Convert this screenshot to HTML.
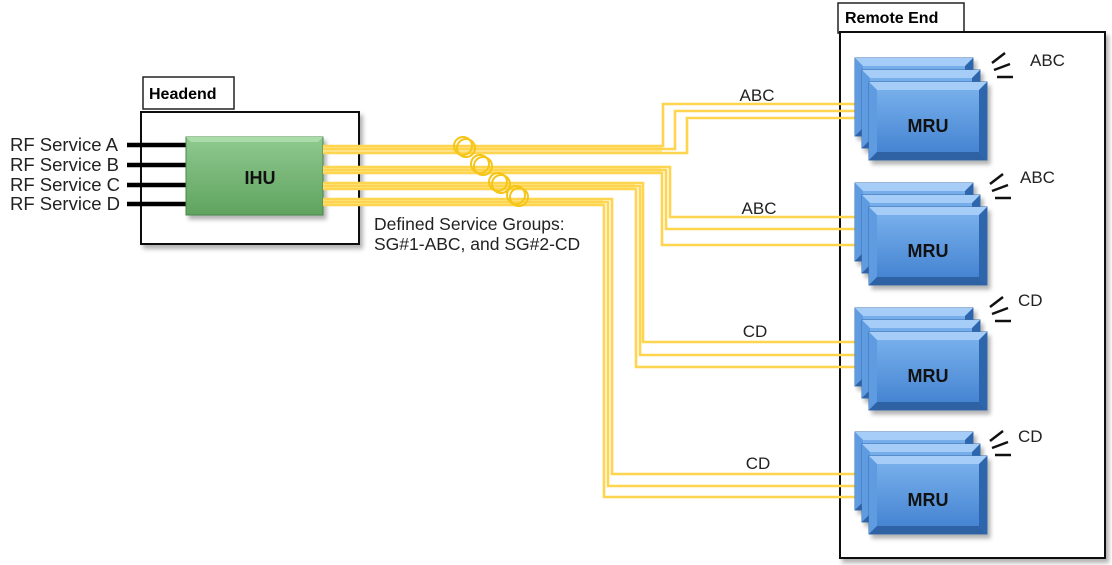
<!DOCTYPE html>
<html><head><meta charset="utf-8"><style>
html,body{margin:0;padding:0;background:#fff;}
svg{display:block;font-family:"Liberation Sans",Arial,sans-serif;}
</style></head><body>
<svg width="1112" height="565" viewBox="0 0 1112 565" xmlns="http://www.w3.org/2000/svg">
<defs>
<linearGradient id="g" x1="0" y1="0" x2="0" y2="1"><stop offset="0" stop-color="#8fc98f"/><stop offset="1" stop-color="#5fa35f"/></linearGradient>
<linearGradient id="b" x1="0" y1="0" x2="0" y2="1"><stop offset="0" stop-color="#7db4ee"/><stop offset="1" stop-color="#3f7fcf"/></linearGradient>
<filter id="sh" x="-10%" y="-10%" width="130%" height="130%"><feDropShadow dx="3" dy="4" stdDeviation="2" flood-color="#000" flood-opacity="0.3"/></filter>
<g id="card"><rect x="0" y="0" width="118" height="78" fill="url(#b)" stroke="#3a6fb0" stroke-width="1"/><polygon points="0,0 118,0 110,8 8,8" fill="#a5cdf7"/><polygon points="0,0 8,8 8,70 0,78" fill="#5e9be0"/><polygon points="118,0 110,8 110,70 118,78" fill="#2f66ad"/><polygon points="0,78 8,70 110,70 118,78" fill="#2d62a5"/></g>
<g id="stack"><use href="#card" x="0" y="0" filter="url(#sh)"/><use href="#card" x="7" y="12" filter="url(#sh)"/><use href="#card" x="14" y="24" filter="url(#sh)"/><text x="73" y="74" font-size="18" font-weight="bold" text-anchor="middle" fill="#111">MRU</text></g>
<g id="waves" stroke="#111" stroke-width="2.5"><line x1="992" y1="5" x2="1005" y2="-5"/><line x1="994" y1="12" x2="1010" y2="6"/><line x1="997" y1="19" x2="1013" y2="19"/></g>
</defs>

<rect x="143" y="77" width="91" height="32" fill="#fff" stroke="#222" stroke-width="1.5"/>
<text x="149" y="99" font-size="16" font-weight="bold">Headend</text>
<rect x="141" y="112" width="218" height="132" fill="#fff" stroke="#111" stroke-width="2" filter="url(#sh)"/>

<rect x="838" y="3" width="126" height="30" fill="#fff" stroke="#222" stroke-width="1.5"/>
<text x="845" y="23" font-size="16" font-weight="bold">Remote End</text>
<rect x="840" y="32" width="265" height="526" fill="#fff" stroke="#111" stroke-width="2" filter="url(#sh)"/>

<g stroke="#000" stroke-width="4.5">
<line x1="127" y1="145" x2="190" y2="145"/><line x1="127" y1="165" x2="190" y2="165"/>
<line x1="127" y1="185" x2="190" y2="185"/><line x1="127" y1="204" x2="190" y2="204"/>
</g>
<g font-size="18.5" fill="#222">
<text x="10" y="151">RF Service A</text><text x="10" y="171">RF Service B</text>
<text x="10" y="191">RF Service C</text><text x="10" y="210">RF Service D</text>
</g>

<rect x="186" y="137" width="137" height="78" fill="url(#g)" stroke="#4a8a4a" filter="url(#sh)"/>
<polygon points="186,137 323,137 318,142 191,142" fill="#a9dca9"/>
<text x="260" y="184" font-size="18" font-weight="bold" text-anchor="middle" fill="#111">IHU</text>

<g stroke="#ffe699" stroke-width="8">
<line x1="323" y1="149.5" x2="662" y2="149.5"/>
<line x1="323" y1="170" x2="661" y2="170"/>
<line x1="323" y1="186" x2="635" y2="186"/>
<line x1="323" y1="202" x2="603" y2="202"/>
</g>
<g fill="none" stroke="#ffd54f" stroke-width="2.6">
<polyline points="323,146 663,146 663,104 855,104"/>
<polyline points="323,149 675,149 675,111 862,111"/>
<polyline points="323,153 687,153 687,118 869,118"/>
<polyline points="323,167 670,167 670,217 855,217"/>
<polyline points="323,170 666,170 666,229 862,229"/>
<polyline points="323,173 662,173 662,245 869,245"/>
<polyline points="323,183 643,183 643,342 855,342"/>
<polyline points="323,186 640,186 640,355 862,355"/>
<polyline points="323,189 636,189 636,367 869,367"/>
<polyline points="323,199 612,199 612,474 855,474"/>
<polyline points="323,202 608,202 608,486 862,486"/>
<polyline points="323,205 604,205 604,497 869,497"/>
</g>
<g fill="none" stroke="#f5c518" stroke-width="2">
<circle cx="463" cy="146" r="9"/><circle cx="466" cy="148" r="9"/>
<circle cx="480" cy="164" r="9"/><circle cx="483" cy="166" r="9"/>
<circle cx="498" cy="182" r="9"/><circle cx="501" cy="184" r="9"/>
<circle cx="516" cy="195" r="9"/><circle cx="519" cy="197" r="9"/>
</g>

<g font-size="17.5" fill="#222">
<text x="374" y="230">Defined Service Groups:</text>
<text x="374" y="250">SG#1-ABC, and SG#2-CD</text>
</g>
<g font-size="17" fill="#222">
<text x="757" y="101" text-anchor="middle">ABC</text>
<text x="759" y="214" text-anchor="middle">ABC</text>
<text x="755" y="337" text-anchor="middle">CD</text>
<text x="758" y="469" text-anchor="middle">CD</text>
<text x="1030" y="66">ABC</text>
<text x="1020" y="183">ABC</text>
<text x="1018" y="306">CD</text>
<text x="1018" y="442">CD</text>
</g>

<use href="#stack" x="855" y="58"/>
<use href="#stack" x="855" y="183"/>
<use href="#stack" x="855" y="308"/>
<use href="#stack" x="855" y="432"/>
<use href="#waves" x="0" y="58"/>
<use href="#waves" x="-2" y="179"/>
<use href="#waves" x="-2" y="302"/>
<use href="#waves" x="-2" y="436"/>
</svg>
</body></html>
